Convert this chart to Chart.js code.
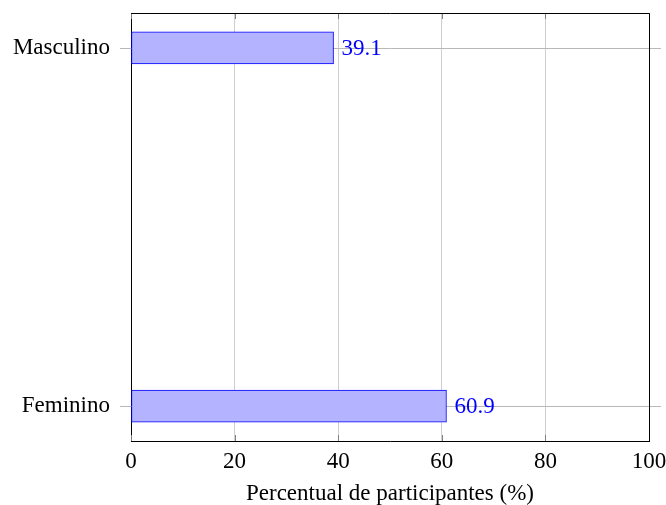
<!DOCTYPE html>
<html lang="pt">
<head>
  <meta charset="UTF-8">
  <script src="https://cdn.jsdelivr.net/npm/chart.js"></script>
  <style>
    html, body { margin: 0; padding: 0; background: #fff; }
    #wrap { width: 666px; height: 505px; }
  </style>
</head>
<body>
  <div id="wrap"><canvas id="myChart" width="666" height="505"></canvas></div>
  <script>
    // dados
    const categories = ['Masculino', 'Feminino'];
    const positions = [0, 1];
    const percentages = [39.1, 60.9];
    const xTicks = [0, 20, 40, 60, 80, 100];
    const xTitle = 'Percentual de participantes (%)';

    const FONT = "'Liberation Serif', 'DejaVu Serif', serif";

    // linhas horizontais da grade (passam um pouco para fora dos eixos)
    const gridPlugin = {
      id: 'catGrid',
      beforeDatasetsDraw(chart) {
        const { ctx, chartArea, scales } = chart;
        ctx.save();
        ctx.strokeStyle = '#b8b8b8';
        ctx.lineWidth = 1;
        positions.forEach(p => {
          const y = Math.round(scales.y.getPixelForValue(p)) + 0.5;
          ctx.beginPath();
          ctx.moveTo(chartArea.left - 11, y);
          ctx.lineTo(chartArea.right + 12, y);
          ctx.stroke();
        });
        // pequenos ticks do eixo x, por dentro
        ctx.strokeStyle = '#808080';
        xTicks.forEach(v => {
          const x = Math.round(scales.x.getPixelForValue(v)) + 0.5;
          ctx.beginPath();
          ctx.moveTo(x, chartArea.bottom);
          ctx.lineTo(x, chartArea.bottom - 6);
          ctx.moveTo(x, chartArea.top);
          ctx.lineTo(x, chartArea.top + 6);
          ctx.stroke();
        });
        ctx.restore();
      },
      afterDraw(chart) {
        // borda superior e direita
        const { ctx, chartArea } = chart;
        ctx.save();
        ctx.strokeStyle = '#000';
        ctx.lineWidth = 1;
        ctx.beginPath();
        ctx.moveTo(Math.round(chartArea.left), Math.round(chartArea.top) + 0.5);
        ctx.lineTo(Math.round(chartArea.right) + 0.5, Math.round(chartArea.top) + 0.5);
        ctx.lineTo(Math.round(chartArea.right) + 0.5, Math.round(chartArea.bottom));
        ctx.stroke();
        ctx.restore();
      }
    };

    // rótulos com o valor ao lado das barras
    const valueLabels = {
      id: 'valueLabels',
      afterDatasetsDraw(chart) {
        const { ctx } = chart;
        const meta = chart.getDatasetMeta(0);
        ctx.save();
        ctx.fillStyle = '#0000ff';
        ctx.font = '23px ' + FONT;
        ctx.textAlign = 'left';
        ctx.textBaseline = 'middle';
        meta.data.forEach((bar, i) => {
          ctx.fillText(percentages[i].toFixed(1), bar.x + 8, bar.y + 1);
        });
        ctx.restore();
      }
    };

    const data = {
      datasets: [{
        data: percentages.map((v, i) => ({ x: v, y: positions[i] })),
        backgroundColor: 'rgb(179, 179, 255)',
        borderColor: '#0000ff',
        borderWidth: 1,
        borderSkipped: false,
        barThickness: 32
      }]
    };

    const config = {
      type: 'bar',
      data: data,
      options: {
        indexAxis: 'y',
        responsive: false,
        animation: false,
        layout: { padding: { left: 0, top: 13, right: 17, bottom: 0 } },
        plugins: {
          legend: { display: false },
          tooltip: { enabled: false }
        },
        scales: {
          x: {
            type: 'linear',
            min: 0,
            max: 100,
            afterBuildTicks: s => { s.ticks = xTicks.map(v => ({ value: v })); },
            afterFit: s => { s.height = 64; s.paddingLeft = 0; s.paddingRight = 0; },
            grid: { color: '#d0d0d0', drawTicks: false },
            border: { color: '#000', width: 1 },
            ticks: { color: '#000', padding: 7, font: { family: FONT, size: 23 } },
            title: {
              display: true,
              text: xTitle,
              color: '#000',
              font: { family: FONT, size: 23 },
              padding: { top: 4, bottom: -3 }
            }
          },
          y: {
            type: 'linear',
            reverse: true,
            offset: false,
            min: -0.0975,
            max: 1.0975,
            afterBuildTicks: s => { s.ticks = positions.map(v => ({ value: v })); },
            afterFit: s => { s.width = 131; s.paddingTop = 0; s.paddingBottom = 0; },
            grid: { display: false, drawTicks: false },
            border: { color: '#000', width: 1 },
            ticks: {
              color: '#000',
              padding: 21,
              font: { family: FONT, size: 23 },
              callback: v => categories[positions.indexOf(v)]
            }
          }
        }
      },
      plugins: [gridPlugin, valueLabels]
    };

    const myChart = new Chart(document.getElementById('myChart'), config);
  </script>
</body>
</html>
